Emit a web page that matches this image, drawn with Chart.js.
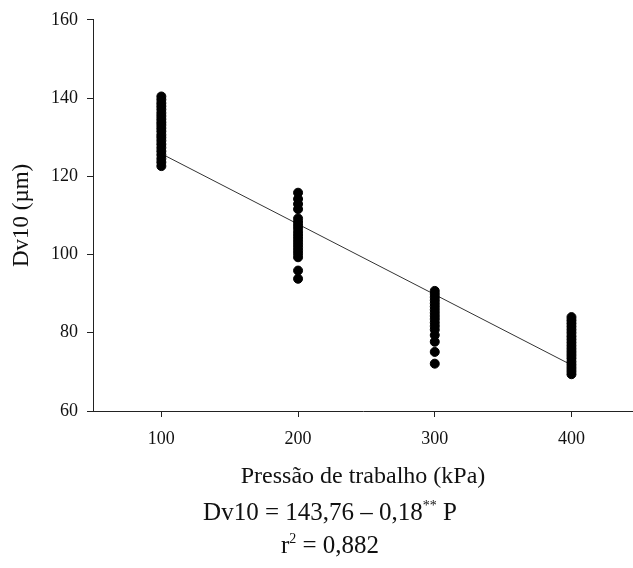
<!DOCTYPE html>
<html>
<head>
<meta charset="utf-8">
<script src="https://cdn.jsdelivr.net/npm/chart.js@4"></script>
<style>
  body { margin: 0; background: #fff; }
  #wrap { position: relative; width: 633px; height: 568px; }
  .eq {
    position: absolute; left: 0; width: 660px; text-align: center;
    font-family: "Liberation Serif", serif; font-size: 25px; color: #111;
    line-height: 1;
  }
  .eq sup { font-size: 14px; vertical-align: 10px; line-height: 0; }
</style>
</head>
<body>
<div id="wrap">
  <canvas id="chart" width="633" height="568"></canvas>
  <div class="eq" style="top: 499px;">Dv10 = 143,76 – 0,18<sup>**</sup> P</div>
  <div class="eq" style="top: 532px;">r<sup>2</sup> = 0,882</div>
</div>
<script>
// pressures (kPa) and measured Dv10 (µm)
const pressures = [100, 200, 300, 400];
const dv100 = [140.4, 139.6, 138.7, 137.9, 137.1, 136.2, 135.4, 134.6, 133.8, 133.1, 132.3, 131.5, 130.6, 129.9, 129.1, 128.2, 127.3, 126.4, 125.5, 124.5, 123.6, 122.6];
const dv200 = [115.8, 114.2, 112.9, 111.6, 109.2, 108.3, 107.5, 106.7, 105.8, 105.0, 104.2, 103.4, 102.6, 101.8, 101.0, 100.2, 99.3, 95.9, 93.8];
const dv300 = [90.7, 89.9, 89.1, 88.3, 87.5, 86.7, 85.9, 85.1, 84.3, 83.5, 82.6, 81.7, 80.8, 79.4, 77.7, 75.1, 72.1];
const dv400 = [84.0, 83.2, 82.4, 81.6, 80.8, 80.0, 79.1, 78.3, 77.5, 76.7, 75.9, 75.1, 74.3, 73.5, 72.6, 71.8, 71.0, 70.2, 69.4];
const xTicks = [100, 200, 300, 400];

// regression: Dv10 = 143.76 - 0.18 P
const intercept = 143.76;
const slope = -0.18;

const groups = [dv100, dv200, dv300, dv400];
const points = [];
groups.forEach((vals, i) => {
    vals.forEach(v => points.push({ x: pressures[i], y: v }));
});
const fitLine = [100, 400].map(p => ({ x: p, y: intercept + slope * p }));

const serif = "'Liberation Serif', 'Times New Roman', serif";
const axisColor = "#222";

new Chart(document.getElementById("chart"), {
    type: "scatter",
    data: {
        datasets: [
            {
                data: points,
                backgroundColor: "#000",
                borderColor: "#000",
                pointRadius: 4.5,
                pointHoverRadius: 4.5
            },
            {
                type: "line",
                data: fitLine,
                borderColor: "#333",
                borderWidth: 1,
                pointRadius: 0,
                fill: false
            }
        ]
    },
    options: {
        responsive: false,
        animation: false,
        layout: { autoPadding: false, padding: { left: 0, right: 0, top: 17, bottom: 77 } },
        plugins: { legend: { display: false }, tooltip: { enabled: false } },
        scales: {
            x: {
                type: "linear",
                min: 50,
                max: 445,
                afterBuildTicks: scale => { scale.ticks = xTicks.map(v => ({ value: v })); },
                afterFit: scale => { scale.height = 80; },
                grid: { drawOnChartArea: false, drawTicks: true, tickLength: 6, color: axisColor },
                border: { display: true, color: axisColor, width: 1 },
                ticks: { color: "#111", font: { family: serif, size: 18 }, padding: 11, maxRotation: 0 },
                title: {
                    display: true,
                    text: "Pressão de trabalho (kPa)",
                    color: "#111",
                    font: { family: serif, size: 24 },
                    padding: { top: 0, bottom: 0 }
                }
            },
            y: {
                min: 60,
                max: 160,
                afterFit: scale => { scale.width = 93; },
                grid: { drawOnChartArea: false, drawTicks: true, tickLength: 6, color: axisColor },
                border: { display: true, color: axisColor, width: 1 },
                ticks: { stepSize: 20, color: "#111", font: { family: serif, size: 18 }, padding: 9 },
                title: {
                    display: true,
                    text: "Dv10 (µm)",
                    color: "#111",
                    font: { family: serif, size: 23 },
                    padding: { top: 8, bottom: 0 }
                }
            }
        }
    }
});
</script>
</body>
</html>
